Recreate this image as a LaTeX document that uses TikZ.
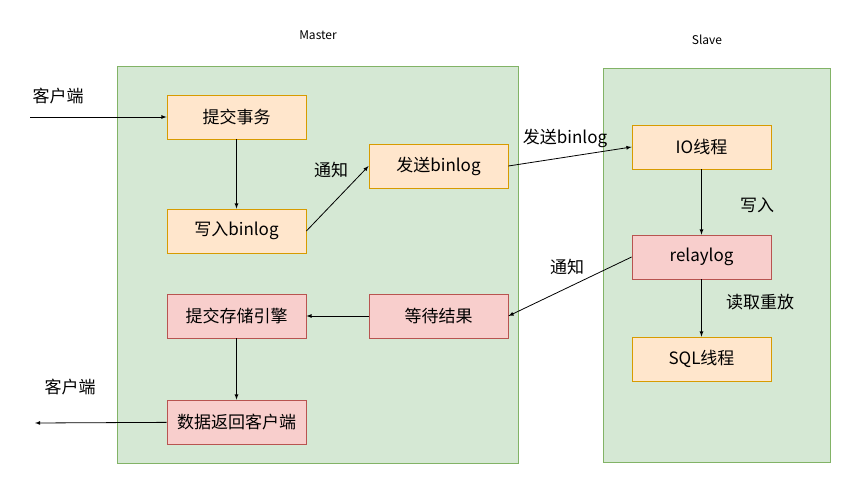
\documentclass[tikz,border=0pt]{standalone}
\usepackage{fontspec}
\setmainfont{Noto Sans CJK SC}
\begin{document}
\begin{tikzpicture}[x=1pt,y=-1pt,
 gfill/.style={draw={rgb,255:red,130;green,179;blue,102},fill={rgb,255:red,213;green,232;blue,212},line width=0.8pt},
 ob/.style={draw={rgb,255:red,215;green,155;blue,0},fill={rgb,255:red,255;green,230;blue,204},minimum width=139pt,minimum height=44pt,inner sep=0pt,font=\fontsize{17}{19}\selectfont,line width=0.8pt},
 rb/.style={ob,draw={rgb,255:red,184;green,84;blue,80},fill={rgb,255:red,248;green,206;blue,204}},
 lab/.style={font=\fontsize{17}{19}\selectfont},
 ar/.style={-latex,line width=0.8pt}]
\useasboundingbox (0,0) rectangle (857,484);
\draw[gfill] (117,66) rectangle (518,463);
\draw[gfill] (603,68) rectangle (830,462);
\node[font=\fontsize{12}{14}\selectfont] (tm) at (318,35) {Master};
\node[font=\fontsize{12}{14}\selectfont] (ts) at (707,40) {Slave};
\node[ob] (a) at (236.5,117) {提交事务};
\node[ob] (b) at (236.5,231) {写入binlog};
\node[ob] (c) at (438.5,166) {发送binlog};
\node[ob] (io) at (701.5,147) {IO线程};
\node[rb] (rl) at (701.5,257) {relaylog};
\node[ob] (sql) at (701.5,359) {SQL线程};
\node[rb] (w) at (438.5,316) {等待结果};
\node[rb] (e) at (236.5,316) {提交存储引擎};
\node[rb] (d) at (236.5,422) {数据返回客户端};
\coordinate (cin) at (30,117);
\coordinate (cout) at (35,423);
\draw[ar] (cin) -- (a);
\draw[ar] (a) -- (b);
\draw[ar] (b.east) -- (c.west);
\draw[ar] (c.east) -- (io.west);
\draw[ar] (io) -- (rl);
\draw[ar] (rl) -- (sql);
\draw[ar] (rl.west) -- (w.east);
\draw[ar] (w) -- (e);
\draw[ar] (e) -- (d);
\draw[ar] (d) -- (cout);
\node[lab] (l1) at (58,96) {客户端};
\node[lab] (l2) at (331,170) {通知};
\node[lab] (l3) at (565,138) {发送binlog};
\node[lab] (l4) at (757,205) {写入};
\node[lab] (l5) at (567,267) {通知};
\node[lab] (l6) at (760,302) {读取重放};
\node[lab] (l7) at (70,387) {客户端};
\end{tikzpicture}
\end{document}
